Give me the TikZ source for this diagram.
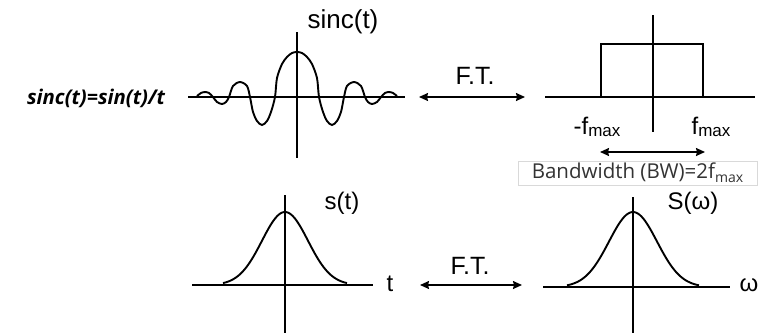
\documentclass[tikz,border=0pt]{standalone}
\usepackage{fontspec}
\setmainfont{Liberation Sans}
\newfontfamily\osans{Open Sans}
\usetikzlibrary{arrows.meta}
\newcommand{\lowsub}[1]{\raisebox{-2.5pt}{\fontsize{17}{17}\selectfont #1}}
\begin{document}
\begin{tikzpicture}[x=1pt,y=-1pt,
  axis/.style={line width=1.6pt},
  curve/.style={line width=1.9pt},
  ftarrow/.style={line width=1.6pt,{Stealth[length=9pt,width=8pt,inset=1pt]}-{Stealth[length=9pt,width=8pt,inset=1pt]}},
  lab/.style={font=\fontsize{24}{24}\selectfont, inner sep=0pt}]
\useasboundingbox[fill=white] (0,0) rectangle (760,333);

% left formula
\node[font=\osans\bfseries\itshape\fontsize{20.3}{20.3}\selectfont, inner sep=0pt] (formula) at (96,98) {sinc(t)=sin(t)/t};

% sinc plot
\draw[axis] (188,97) -- (405,97);
\draw[axis] (297,32) -- (297,158);
\draw[curve] plot[smooth] coordinates {(197,96) (201,93) (205,92) (209,93) (213,97) (217,102) (222,104) (226,102) (229,97) (233,86) (240,82) (247,86) (250,97) (253,112) (257,121) (262,125) (267,121) (271,112) (275,97) (277,78) (282,64) (287,57) (292,53) (297,52) (302,53) (307,57) (312,64) (317,78) (319,97) (323,112) (327,121) (332,125) (337,121) (341,112) (344,97) (347,86) (354,82) (361,86) (365,97) (368,102) (372,104) (377,102) (381,97) (385,93) (389,92) (393,93) (397,96)};
\node[lab, font=\fontsize{26}{26}\selectfont] (sinclab) at (343,22) {sinc(t)};

% top F.T.
\node[lab, font=\fontsize{25}{25}\selectfont] (ft1) at (475,76) {F.T.};
\coordinate (a1l) at (419,97);
\coordinate (a1r) at (525,97);
\draw[ftarrow] (a1l) -- (a1r);

% rect plot
\draw[axis] (545,97) -- (755,97);
\draw[axis] (653,15) -- (653,132);
\draw[curve] (601,97) -- (601,44) -- (703,44) -- (703,97);
\node[lab] (nfmax) at (597,127) {-f\lowsub{max}};
\node[lab] (pfmax) at (711,127) {f\lowsub{max}};
\coordinate (bwl) at (600,152);
\coordinate (bwr) at (705,152);
\draw[ftarrow] (bwl) -- (bwr);
\node[draw=black!15, fill=white, line width=0.8pt, minimum width=239pt, minimum height=24pt, inner sep=0pt,
  font=\osans\fontsize{20.5}{20.5}\selectfont, text=black!80] (bw) at (637.5,173) {Bandwidth (BW)=2f\raisebox{-0.4ex}{\fontsize{14}{14}\selectfont max}};

% bottom s(t)
\draw[axis] (192,285) -- (373,285);
\draw[axis] (285,195) -- (285,333);
\draw[curve] plot[domain=-62:62, samples=70, smooth] ({285+\x},{285-73*exp(-0.5*(\x/23)^2)});
\node[lab] (stlab) at (342,203) {s(t)};
\node[lab] (tlab) at (390,284) {t};

% bottom F.T.
\node[lab, font=\fontsize{25}{25}\selectfont] (ft2) at (470,266) {F.T.};
\coordinate (a2l) at (420,285);
\coordinate (a2r) at (522,285);
\draw[ftarrow] (a2l) -- (a2r);

% bottom S(omega)
\draw[axis] (543,287) -- (730,287);
\draw[axis] (633,197) -- (633,333);
\draw[curve] plot[domain=-66:66, samples=70, smooth] ({633+\x},{287-75*exp(-0.5*(\x/24)^2)});
\node[lab] (Swlab) at (693,203) {S(ω)};
\node[lab] (wlab) at (749,285) {ω};
\end{tikzpicture}
\end{document}
